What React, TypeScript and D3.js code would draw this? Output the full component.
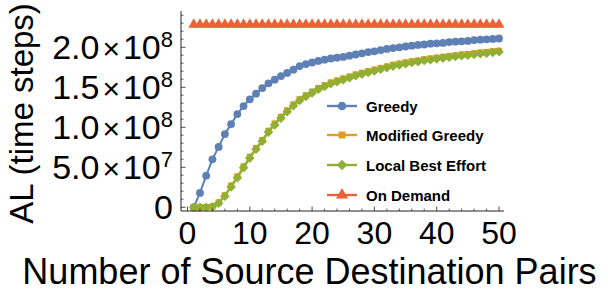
import React from "react";
import * as d3 from "d3";

const xValues = [1,2,3,4,5,6,7,8,9,10,11,12,13,14,15,16,17,18,19,20,21,22,23,24,25,26,27,28,29,30,31,32,33,34,35,36,37,38,39,40,41,42,43,44,45,46,47,48,49,50];

// values in units of 1e8 time steps
const greedy = [0, 0.18, 0.395, 0.60, 0.755, 0.915, 1.04, 1.165, 1.265, 1.35, 1.42, 1.49, 1.55, 1.595, 1.64, 1.68, 1.72, 1.765, 1.79, 1.81, 1.83, 1.845, 1.86, 1.87, 1.88, 1.895, 1.91, 1.925, 1.94, 1.95, 1.965, 1.98, 1.99, 2.0, 2.01, 2.02, 2.03, 2.035, 2.045, 2.05, 2.055, 2.065, 2.07, 2.075, 2.08, 2.09, 2.095, 2.10, 2.105, 2.11];
const modifiedGreedy = [0, 0, 0.002, 0.01, 0.06, 0.15, 0.27, 0.385, 0.51, 0.63, 0.74, 0.84, 0.955, 1.045, 1.13, 1.21, 1.285, 1.35, 1.40, 1.445, 1.49, 1.525, 1.56, 1.585, 1.61, 1.635, 1.66, 1.68, 1.70, 1.72, 1.74, 1.76, 1.78, 1.795, 1.81, 1.825, 1.835, 1.85, 1.86, 1.87, 1.88, 1.89, 1.90, 1.91, 1.915, 1.925, 1.935, 1.94, 1.95, 1.955];
const localBestEffort = [0, 0, 0, 0.006, 0.05, 0.138, 0.255, 0.37, 0.495, 0.615, 0.725, 0.825, 0.94, 1.03, 1.115, 1.195, 1.27, 1.335, 1.385, 1.43, 1.475, 1.51, 1.545, 1.57, 1.595, 1.62, 1.645, 1.665, 1.685, 1.705, 1.725, 1.745, 1.765, 1.78, 1.795, 1.81, 1.82, 1.835, 1.845, 1.855, 1.865, 1.875, 1.885, 1.895, 1.90, 1.91, 1.92, 1.925, 1.935, 1.945];
const onDemand = [2.285, 2.285, 2.285, 2.285, 2.285, 2.285, 2.285, 2.285, 2.285, 2.285, 2.285, 2.285, 2.285, 2.285, 2.285, 2.285, 2.285, 2.285, 2.285, 2.285, 2.285, 2.285, 2.285, 2.285, 2.285, 2.285, 2.285, 2.285, 2.285, 2.285, 2.285, 2.285, 2.285, 2.285, 2.285, 2.285, 2.285, 2.285, 2.285, 2.285, 2.285, 2.285, 2.285, 2.285, 2.285, 2.285, 2.285, 2.285, 2.285, 2.285];

const seriesNames = ["Greedy", "Modified Greedy", "Local Best Effort", "On Demand"];
const seriesColors = ["#5E81B5", "#E19C24", "#8FB032", "#EB6235"];
const seriesData = [greedy, modifiedGreedy, localBestEffort, onDemand];

const xMajorTicks = [0, 10, 20, 30, 40, 50];
const xMinorTicks = [2,4,6,8,12,14,16,18,22,24,26,28,32,34,36,38,42,44,46,48];
const yMajorTicks = [0, 0.5, 1.0, 1.5, 2.0];
const yTickMantissa = ["0", "5.0", "1.0", "1.5", "2.0"];
const yTickExponent = ["", "7", "8", "8", "8"];
const yMinorTicks = [0.1,0.2,0.3,0.4,0.6,0.7,0.8,0.9,1.1,1.2,1.3,1.4,1.6,1.7,1.8,1.9,2.1,2.2,2.3,2.4];

const xTitle = "Number of Source Destination Pairs";
const yTitle = "AL (time steps)";

const W = 608, H = 307;
const x = d3.scaleLinear().domain([0, 50]).range([187.5, 499]);
const y = d3.scaleLinear().domain([0, 2]).range([207.3, 47.3]);
const axisLeft = 181;
const axisBottom = 211;
const axisRight = 504;
const axisTop = 11;

const symbolTypes = [d3.symbolCircle, d3.symbolSquare, d3.symbolSquare, d3.symbolTriangle];
const symbolSizes = [48, 40, 46, 52];
const symbolRotate = [0, 0, 45, 0];

function marker(i: number, cx: number, cy: number, key: string, scale = 1) {
  const p = d3.symbol().type(symbolTypes[i]).size(symbolSizes[i] * scale)() as string;
  return (
    <path key={key} d={p} fill={seriesColors[i]}
      transform={`translate(${cx},${cy}) rotate(${symbolRotate[i]})`} />
  );
}

const fontFam = "Liberation Sans, Arial, sans-serif";

export default function App() {
  const line = d3.line<number>().x((_, j) => x(xValues[j])).y((d) => y(d));
  const legendRows = [106, 135, 165, 195];
  return (
    <svg width={W} height={H} style={{ position: "absolute", left: 0, top: 0, background: "#fff" }}
      fontFamily={fontFam}>
      <rect width={W} height={H} fill="#fff" />
      {/* series */}
      {seriesData.map((data, i) => (
        <g key={i}>
          <path d={line(data) as string} fill="none" stroke={seriesColors[i]} strokeWidth={2} />
          {data.map((d, j) => marker(i, x(xValues[j]), y(d), `m${i}-${j}`))}
        </g>
      ))}
      {/* axes */}
      <line x1={axisLeft} x2={axisRight} y1={axisBottom} y2={axisBottom} stroke="#222" strokeWidth={1} />
      <line x1={axisLeft} x2={axisLeft} y1={axisTop} y2={axisBottom} stroke="#222" strokeWidth={1} />
      {xMajorTicks.map((t) => (
        <line key={`xM${t}`} x1={x(t)} x2={x(t)} y1={axisBottom} y2={axisBottom - 4.5} stroke="#222" strokeWidth={0.8} />
      ))}
      {xMinorTicks.map((t) => (
        <line key={`xm${t}`} x1={x(t)} x2={x(t)} y1={axisBottom} y2={axisBottom - 2.5} stroke="#222" strokeWidth={0.7} />
      ))}
      {yMajorTicks.map((t) => (
        <line key={`yM${t}`} x1={axisLeft} x2={axisLeft + 4.5} y1={y(t)} y2={y(t)} stroke="#222" strokeWidth={0.8} />
      ))}
      {yMinorTicks.map((t) => (
        <line key={`ym${t}`} x1={axisLeft} x2={axisLeft + 2.5} y1={y(t)} y2={y(t)} stroke="#222" strokeWidth={0.7} />
      ))}
      {/* x tick labels */}
      {xMajorTicks.map((t) => (
        <text key={`xl${t}`} x={x(t)} y={244} fontSize={32} textAnchor="middle" fill="#000">{t}</text>
      ))}
      {/* y tick labels */}
      {yMajorTicks.map((t, i) => (
        <text key={`yl${t}`} x={173} y={y(t) + 12} fontSize={34} textAnchor="end" fill="#000">
          <tspan>{yTickMantissa[i]}</tspan>
          {yTickExponent[i] !== "" && <tspan dx={3} fontSize={30}>×</tspan>}
          {yTickExponent[i] !== "" && <tspan dx={3}>10</tspan>}
          {yTickExponent[i] !== "" && <tspan dy={-12} fontSize={22}>{yTickExponent[i]}</tspan>}
        </text>
      ))}
      {/* titles */}
      <text x={(23 + 596) / 2} y={284} fontSize={36} textAnchor="middle" fill="#000">{xTitle}</text>
      <text transform={`translate(33,${(5 + 222) / 2}) rotate(-90)`} fontSize={33} textAnchor="middle" fill="#000">{yTitle}</text>
      {/* legend */}
      {seriesNames.map((name, i) => (
        <g key={name}>
          <line x1={327} x2={357} y1={legendRows[i]} y2={legendRows[i]} stroke={seriesColors[i]} strokeWidth={2.4} />
          {marker(i, 342, legendRows[i], `lg${i}`, 1.2)}
          <text x={366} y={legendRows[i] + 5.5} fontSize={15} fontWeight="bold" fill="#000">{name}</text>
        </g>
      ))}
    </svg>
  );
}
